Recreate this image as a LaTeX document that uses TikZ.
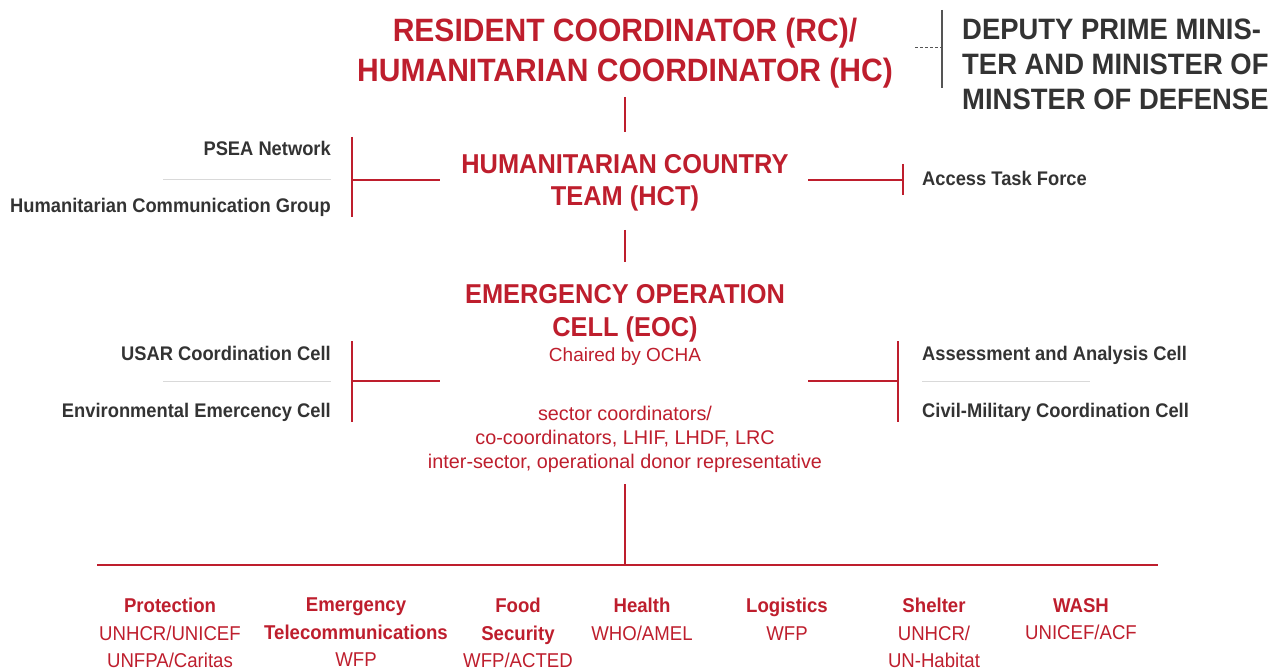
\documentclass[tikz,border=0pt]{standalone}
\usepackage{fontspec}
\setmainfont{Liberation Sans}[FakeStretch=0.93]
\newfontfamily\widefont{Liberation Sans}
\definecolor{ocred}{RGB}{190,30,45}
\definecolor{ocdark}{RGB}{51,51,51}
\definecolor{ocgray}{RGB}{85,85,85}
\definecolor{ocline}{RGB}{217,217,217}
\tikzset{
  bighead/.style={text=ocred, font=\bfseries\fontsize{32.3}{40}\selectfont, align=center, inner sep=0pt},
  midhead/.style={text=ocred, font=\bfseries\fontsize{27.3}{32.5}\selectfont, align=center, inner sep=0pt},
  govtext/.style={text=ocdark, font=\bfseries\fontsize{29.5}{35}\selectfont, align=left, inner sep=0pt},
  sidelbl/.style={text=ocdark, font=\bfseries\fontsize{19.7}{24}\selectfont, inner sep=0pt},
  redtxt/.style={text=ocred, font=\widefont\fontsize{19}{24}\selectfont, align=center, inner sep=0pt},
  sector/.style={text=ocred, font=\fontsize{20}{27.5}\selectfont, align=center, inner sep=0pt, anchor=north},
  redline/.style={draw=ocred, line width=1.2pt},
  sepline/.style={draw=ocline, line width=1pt},
}
\begin{document}
\begin{tikzpicture}[x=1pt,y=-1pt]
\useasboundingbox (0,0) rectangle (1274,668);

% ---- top: RC/HC and government
\node[bighead] (rc) at (625,53) {RESIDENT COORDINATOR (RC)/\\HUMANITARIAN COORDINATOR (HC)};
\node[govtext, anchor=west] (gov) at (962,64) {DEPUTY PRIME MINIS-\\TER AND MINISTER OF\\MINSTER OF DEFENSE};
\coordinate (govtop) at (942,10);
\coordinate (govbot) at (942,88);
\coordinate (govmid) at (942,47);
\coordinate (rcright) at (915,47);
\draw[ocgray, line width=1.5pt] (govtop) -- (govbot);
\draw[ocgray, dashed, dash pattern=on 3pt off 2pt, line width=0.6pt] (rcright) -- (govmid);

% ---- HCT
\node[midhead] (hct) at (625,183) {HUMANITARIAN COUNTRY\\TEAM (HCT)};
\coordinate (v1a) at (625,97);
\coordinate (v1b) at (625,132);
\draw[redline] (v1a) -- (v1b);

\node[sidelbl, anchor=base east] (psea) at (331,156) {PSEA Network};
\node[sidelbl, anchor=base east] (hcg) at (331,213) {Humanitarian Communication Group};
\coordinate (lsep1a) at (163,180);
\coordinate (lsep1b) at (331,180);
\draw[sepline] (lsep1a) -- (lsep1b);
\coordinate (lb1t) at (352,137);
\coordinate (lb1b) at (352,217);
\coordinate (lb1m) at (352,180);
\coordinate (hctl) at (440,180);
\draw[redline] (lb1t) -- (lb1b);
\draw[redline] (lb1m) -- (hctl);

\node[sidelbl, anchor=base west] (atf) at (922,186) {Access Task Force};
\coordinate (hctr) at (808,180);
\coordinate (rb1m) at (903,180);
\coordinate (rb1t) at (903,164);
\coordinate (rb1b) at (903,195);
\draw[redline] (hctr) -- (rb1m);
\draw[redline] (rb1t) -- (rb1b);

% ---- EOC
\coordinate (v2a) at (625,230);
\coordinate (v2b) at (625,262);
\draw[redline] (v2a) -- (v2b);
\node[midhead] (eoc) at (625,313.5) {EMERGENCY OPERATION\\CELL (EOC)};
\node[redtxt] (chair) at (625,357) {Chaired by OCHA};
\node[redtxt, font=\widefont\fontsize{19.8}{24}\selectfont] (members) at (625,439) {sector coordinators/\\co-coordinators, LHIF, LHDF, LRC\\inter-sector, operational donor representative};

\node[sidelbl, anchor=base east] (usar) at (331,360) {USAR Coordination Cell};
\node[sidelbl, anchor=base east] (env) at (331,417) {Environmental Emercency Cell};
\coordinate (lsep2a) at (163,381);
\coordinate (lsep2b) at (331,381);
\draw[sepline] (lsep2a) -- (lsep2b);
\coordinate (lb2t) at (352,341);
\coordinate (lb2b) at (352,422);
\coordinate (lb2m) at (352,381);
\coordinate (eocl) at (440,381);
\draw[redline] (lb2t) -- (lb2b);
\draw[redline] (lb2m) -- (eocl);

\node[sidelbl, anchor=base west] (aac) at (922,360) {Assessment and Analysis Cell};
\node[sidelbl, anchor=base west] (cmcc) at (922,417) {Civil-Military Coordination Cell};
\coordinate (rsep2a) at (922,381);
\coordinate (rsep2b) at (1090,381);
\draw[sepline] (rsep2a) -- (rsep2b);
\coordinate (eocr) at (808,381);
\coordinate (rb2m) at (898,381);
\coordinate (rb2t) at (898,341);
\coordinate (rb2b) at (898,422);
\draw[redline] (eocr) -- (rb2m);
\draw[redline] (rb2t) -- (rb2b);

% ---- sectors
\coordinate (v3a) at (625,484);
\coordinate (v3b) at (625,565);
\draw[redline] (v3a) -- (v3b);
\coordinate (barl) at (97,565);
\coordinate (barr) at (1158,565);
\draw[draw=ocred, line width=2.6pt] (barl) -- (barr);

\node[sector] (prot) at (170,598) {\textbf{Protection}\\UNHCR/UNICEF\\UNFPA/Caritas};
\node[sector] (etc) at (356,598) {\textbf{Emergency}\\\textbf{Telecommunications}\\WFP};
\node[sector] (food) at (518,598) {\textbf{Food}\\\textbf{Security}\\WFP/ACTED};
\node[sector] (health) at (642,598) {\textbf{Health}\\WHO/AMEL};
\node[sector] (log) at (787,598) {\textbf{Logistics}\\WFP};
\node[sector] (shelter) at (934,598) {\textbf{Shelter}\\UNHCR/\\UN-Habitat};
\node[sector] (wash) at (1081,598) {\textbf{WASH}\\UNICEF/ACF};
\end{tikzpicture}
\end{document}
